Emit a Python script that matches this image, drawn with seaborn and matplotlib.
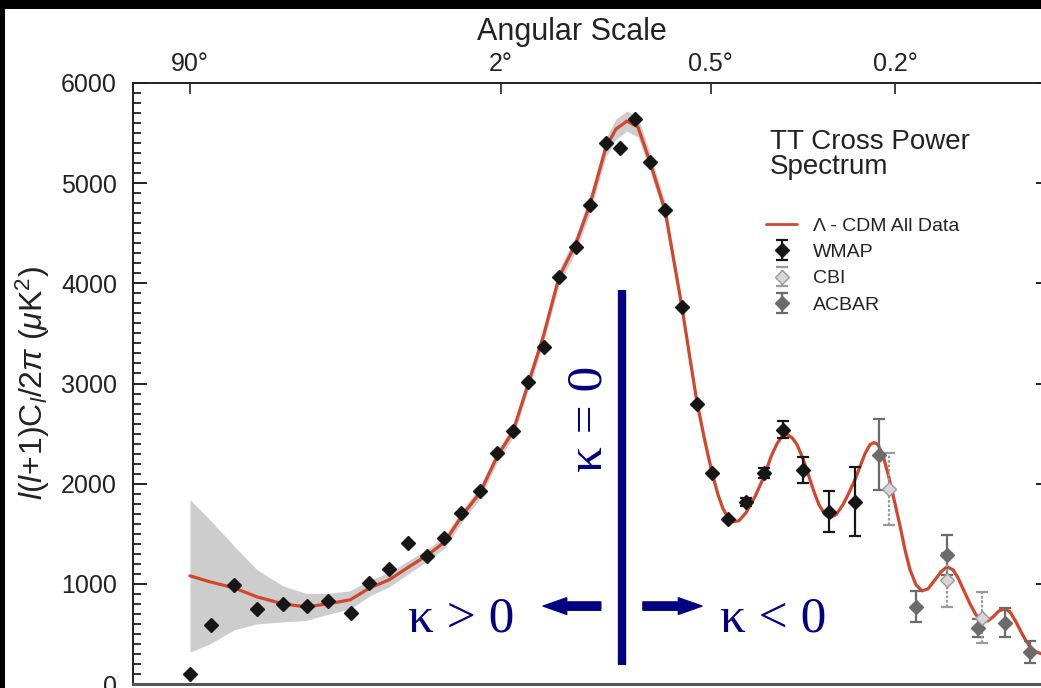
import numpy as np
import matplotlib
matplotlib.use("Agg")
import matplotlib.pyplot as plt
from matplotlib.patches import Rectangle
from matplotlib.lines import Line2D
from matplotlib.ticker import MultipleLocator, NullLocator
import seaborn as sns

# Best-fit Lambda-CDM model: multipole l and l(l+1)C_l/2pi in uK^2
model_l = [2.0, 2.95, 4.5, 6.5, 9.48, 12.9, 16.9, 21.9, 27.2, 33.2, 40.4, 48.3,
           56.4, 65.4, 76.1, 87.3, 98.9, 110.9, 123.9, 139.0, 156.5, 172.2, 191.4,
           204.2, 219.1, 234.7, 252.8, 276.7, 305.8, 320.3, 333.4, 348.9, 362.8,
           375.1, 385.6, 396.3, 407.2, 420.6, 436.6, 457.9, 480.0, 497.7, 513.3,
           526.5, 540.0, 553.8, 567.8, 584.9, 599.5, 617.4, 632.6, 651.3, 667.1,
           686.5, 709.6, 729.9, 750.6, 768.2, 786.1, 804.3, 819.1, 834.1, 853.1,
           876.4, 900.2, 920.3, 940.8, 961.7, 987.1, 1013.1, 1039.6, 1071.1, 1098.7,
           1126.8, 1155.5, 1179.8, 1209.4, 1239.7, 1270.5, 1301.8, 1333.7, 1360.8,
           1393.8, 1427.4, 1455.8, 1490.5, 1520.0, 1549.8, 1580.0, 1610.8, 1648.0]
model_dl = [1080, 1020, 960, 870, 800, 770, 800, 840, 960, 1040, 1170, 1290,
            1420, 1680, 1910, 2270, 2520, 2990, 3460, 4060, 4400, 4790, 5360,
            5540, 5620, 5560, 5210, 4730, 3760, 3250, 2810, 2420, 2110,
            1890, 1750, 1660, 1620, 1630, 1710, 1870, 2070, 2270, 2400,
            2470, 2490, 2460, 2390, 2250, 2100, 1920, 1790, 1690, 1660,
            1690, 1790, 1910, 2040, 2170, 2300, 2390, 2410, 2390, 2280,
            2060, 1800, 1580, 1340, 1140, 990, 930, 950, 1040, 1120,
            1170, 1140, 1060, 930, 800, 690, 630, 630, 670,
            730, 750, 720, 620, 520, 430, 360, 320, 300]
# half-width of the cosmic-variance band around the model
model_cv = [760, 620, 420, 270, 180, 135, 105, 90, 80, 70, 65, 60,
            60, 60, 60, 60, 60, 65, 70, 75, 80, 85, 95,
            100, 100, 100, 90, 80, 60, 50, 45, 40, 35] + [0] * 58

# WMAP binned band powers
wmap_l = [2, 3, 4.5, 6.5, 9.5, 13, 17, 22, 27, 33, 40, 48, 56, 65, 76, 87, 99,
          111, 125, 139, 157, 172, 191, 210, 230, 253, 277, 306, 333, 363, 396,
          437, 480, 529, 585, 664, 751]
wmap_dl = [100, 590, 990, 750, 800, 780, 830, 710, 1010, 1150, 1410, 1280, 1460,
           1710, 1930, 2310, 2530, 3010, 3360, 4060, 4360, 4780, 5400, 5350, 5640,
           5210, 4730, 3760, 2800, 2110, 1650, 1820, 2110, 2540, 2140, 1720, 1820]
wmap_err = [0, 0, 0, 0, 0, 0, 0, 0, 0, 0, 0, 0, 0, 0, 0, 0, 0, 0, 0, 0, 0, 0, 0,
            0, 0, 0, 0, 0, 0, 0, 0, 40, 50, 85, 130, 205, 345]

# CBI band powers
cbi_l = [876, 1127, 1302]
cbi_dl = [1950, 1040, 660]
cbi_err = [360, 270, 255]

# ACBAR band powers
acbar_l = [838, 987, 1127, 1281, 1427, 1574]
acbar_dl = [2290, 770, 1290, 560, 610, 320]
acbar_err = [355, 155, 200, 90, 145, 110]

angle_ticks = [90, 2, 0.5, 0.2]
angle_labels = ["90°", "2°", "0.5°", "0.2°"]
y_ticks = [0, 1000, 2000, 3000, 4000, 5000, 6000]

sns.set_theme(style="ticks")
plt.rcParams["font.family"] = ["Liberation Sans", "DejaVu Sans"]
plt.rcParams["mathtext.fontset"] = "custom"
plt.rcParams["mathtext.rm"] = "Liberation Sans"
plt.rcParams["mathtext.it"] = "Liberation Sans:italic"

W, H = 1041, 688
AX_L, AX_R, AX_T, AX_B = 133, 1050, 83, 684
fig = plt.figure(figsize=(W / 100, H / 100), dpi=100, facecolor="black")
fig.patches.append(Rectangle((5 / W, 0), 1 - 5 / W, 1 - 9 / H, transform=fig.transFigure,
                             facecolor="white", edgecolor="none", zorder=-10))
ax = fig.add_axes([AX_L / W, (H - AX_B) / H, (AX_R - AX_L) / W, (AX_B - AX_T) / H])
ax.set_zorder(2)
ax.set_facecolor("white")

ax.set_xscale("function", functions=(lambda v: np.power(np.clip(v, 1e-9, None), 0.25),
                                      lambda u: np.power(np.clip(u, 0, None), 4)))
ax.set_xlim(0.504, 1699)
ax.set_ylim(0, 6000)

red = "#d2472b"
ml = np.array(model_l)
md = np.array(model_dl)
mc = np.array(model_cv)
ax.fill_between(ml, md - mc, md + mc, where=mc > 0, color="#cdcdcd", lw=0, zorder=1)
sns.lineplot(x=ml, y=md, ax=ax, color=red, lw=2.3, estimator=None, sort=False, zorder=3)

we = np.array(wmap_err, dtype=float)
we[we == 0] = np.nan
wmap_c = ax.errorbar(wmap_l, wmap_dl, yerr=we, fmt="D", ms=7, color="#161616",
                     ecolor="#161616", elinewidth=1.6, capsize=4, capthick=1.6, zorder=5)
acbar_c = ax.errorbar(acbar_l, acbar_dl, yerr=acbar_err, fmt="D", ms=7, color="#6b6b6b",
                      ecolor="#6b6b6b", elinewidth=1.6, capsize=4, capthick=1.6, zorder=4)
cbi_c = ax.errorbar(cbi_l, cbi_dl, yerr=cbi_err, fmt="D", ms=7, mfc="#d6d6d6",
                    mec="#9a9a9a", ecolor="#9a9a9a", elinewidth=1.6, capsize=4,
                    capthick=1.6, zorder=4)
cbi_c[2][0].set_linestyle((0, (1.2, 0.8)))

# axes, ticks and labels
ax.xaxis.tick_top()
ax.xaxis.set_label_position("top")
ax.set_xticks([180.0 / a for a in angle_ticks])
ax.set_xticklabels(angle_labels)
ax.xaxis.set_minor_locator(NullLocator())
ax.tick_params(axis="x", which="major", direction="in", length=8, width=1.2,
               top=True, bottom=False, labeltop=True, labelbottom=False,
               labelsize=18, pad=5, colors="#222222")
ax.set_xlabel("Angular Scale", fontsize=22, color="#222222")
ax.xaxis.set_label_coords((572 - AX_L) / (AX_R - AX_L), (AX_B - 40) / (AX_B - AX_T))

ax.yaxis.set_ticks_position("both")
ax.set_yticks(y_ticks)
ax.yaxis.set_minor_locator(MultipleLocator(100))
ax.tick_params(axis="y", which="major", direction="in", length=10, width=1.4,
               left=True, right=True, labelleft=True, labelright=False,
               labelsize=18, pad=11.5, colors="#222222")
ax.tick_params(axis="y", which="minor", direction="in", length=5.5, width=1.3,
               left=True, right=False, color="#222222")
for side in ["left", "top", "right"]:
    ax.spines[side].set_color("#222222")
    ax.spines[side].set_linewidth(1.4)
ax.spines["bottom"].set_color("#555555")
ax.spines["bottom"].set_linewidth(2.2)

fig.text(33 / W, 1 - 383 / H, r"$l(l\!+\!1)\mathrm{C}_l/2\pi\ (\mu\mathrm{K}^2)$",
         rotation=90, ha="center", va="center", fontsize=23, color="#222222")

# legend
fig.text(770 / W, 1 - 129 / H, "TT Cross Power\nSpectrum", ha="left", va="top",
         fontsize=20, linespacing=0.95, color="#222222", zorder=5)
model_handle = Line2D([], [], color=red, lw=2.0)
ax.legend(handles=[model_handle, wmap_c, cbi_c, acbar_c],
          labels=["Λ - CDM All Data", "WMAP", "CBI", "ACBAR"],
          loc="upper left", bbox_to_anchor=(766 / W, 1 - 217 / H),
          bbox_transform=fig.transFigure, frameon=False, fontsize=14,
          handlelength=1.6, handletextpad=0.8, labelspacing=0.45,
          borderpad=0, borderaxespad=0, labelcolor="#222222")

# curvature annotations
navy = "#000080"
ax.vlines(212, 190, 3930, colors=navy, lw=6, zorder=6)
arrow_style = "simple,head_length=1.7,head_width=1.2,tail_width=0.6"
ax.annotate("", xy=(124, 778), xytext=(185, 778),
            arrowprops=dict(arrowstyle=arrow_style, color=navy, mutation_scale=10,
                            shrinkA=0, shrinkB=0), zorder=6)
ax.annotate("", xy=(343, 778), xytext=(242, 778),
            arrowprops=dict(arrowstyle=arrow_style, color=navy, mutation_scale=10,
                            shrinkA=0, shrinkB=0), zorder=6)
serif = ["Liberation Serif", "DejaVu Serif"]
fig.text(461 / W, 1 - 632 / H, "κ > 0", ha="center", va="baseline", fontsize=37,
         color=navy, family=serif, zorder=5)
fig.text(773 / W, 1 - 632 / H, "κ < 0", ha="center", va="baseline", fontsize=37,
         color=navy, family=serif, zorder=5)
fig.text(589 / W, 1 - 419 / H, "κ = 0", ha="center", va="center", rotation=90,
         fontsize=37, color=navy, family=serif, zorder=5)

fig.savefig("out.png", dpi=100, facecolor="black")
